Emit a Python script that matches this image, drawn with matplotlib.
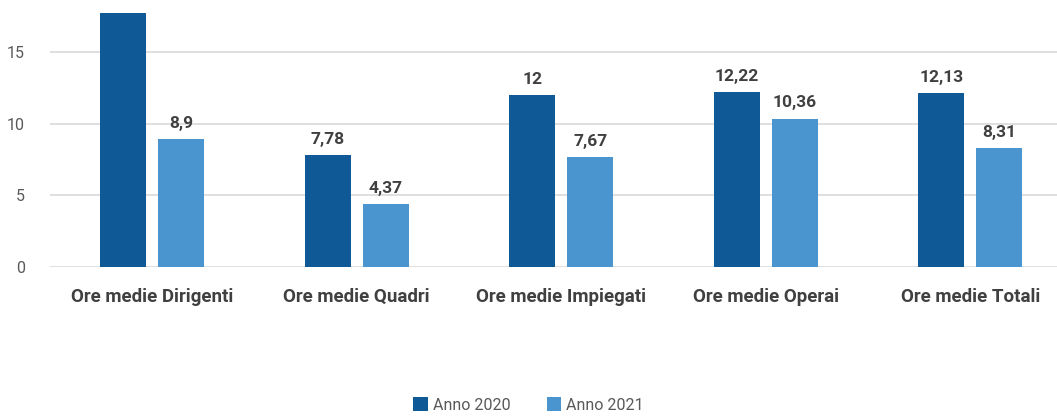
import matplotlib
matplotlib.use("Agg")
import matplotlib.pyplot as plt
import numpy as np

categories = ["Ore medie Dirigenti", "Ore medie Quadri", "Ore medie Impiegati",
              "Ore medie Operai", "Ore medie Totali"]
anno_2020 = [17.72, 7.78, 12.0, 12.22, 12.13]
anno_2021 = [8.9, 4.37, 7.67, 10.36, 8.31]
labels_2020 = ["", "7,78", "12", "12,22", "12,13"]
labels_2021 = ["8,9", "4,37", "7,67", "10,36", "8,31"]
series_names = ["Anno 2020", "Anno 2021"]
yticks = [0, 5, 10, 15]

W, H = 1057, 416
fig = plt.figure(figsize=(W / 100, H / 100), dpi=100)
plt.rcParams['font.family'] = ['Roboto', 'DejaVu Sans']

left = 50 / W
width = 5 * 204.5 / W
bottom = (H - 267) / H
height = 267 / H
ax = fig.add_axes([left, bottom, width, height])

x = np.arange(len(categories))
bw = 0.225
off = 0.142
c1 = "#0F5A96"
c2 = "#4A94D0"
b1 = ax.bar(x - off, anno_2020, bw, color=c1, zorder=3, label=series_names[0])
b2 = ax.bar(x + off, anno_2021, bw, color=c2, zorder=3, label=series_names[1])

for bars, labs in ((b1, labels_2020), (b2, labels_2021)):
    for rect, lab in zip(bars, labs):
        if lab:
            ax.annotate(lab, (rect.get_x() + rect.get_width() / 2, rect.get_height()),
                        xytext=(0, 6), textcoords="offset points", ha="center", va="bottom",
                        fontsize=12.5, fontweight="bold", color="#404040")

ax.set_xlim(-0.5, 4.5)
ax.set_ylim(0, 267 / (215 / 15))
ax.set_yticks(yticks)
ax.set_yticklabels([str(v) for v in yticks], fontsize=11.5, color="#595959")
ax.set_xticks(x)
ax.set_xticklabels(categories, fontsize=13.5, fontweight="bold", color="#404040")
ax.tick_params(axis="both", length=0)
ax.tick_params(axis="y", pad=18)
ax.tick_params(axis="x", pad=15)
ax.grid(axis="y", color="#D9D9D9", linewidth=1.2, zorder=0)
for s in ax.spines.values():
    s.set_visible(False)

leg = fig.legend(handles=[b1, b2], labels=series_names, loc="center",
                 bbox_to_anchor=(0.5, 1 - 405 / H), ncol=2, frameon=False,
                 prop={"size": 11.5}, handlelength=0.9,
                 handleheight=0.9, handletextpad=0.3, columnspacing=2.3)
for t in leg.get_texts():
    t.set_color("#595959")

fig.savefig("out.png", dpi=100)
